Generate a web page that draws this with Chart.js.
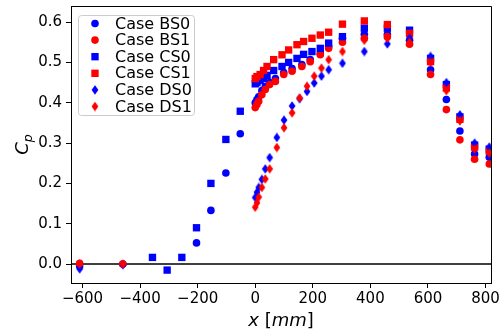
<!DOCTYPE html>
<html><head><meta charset="utf-8">
<script src="https://cdn.jsdelivr.net/npm/chart.js@4/dist/chart.umd.min.js"></script>
<style>html,body{margin:0;padding:0;background:#fff;overflow:hidden}#wrap{width:500px;height:333px}</style>
</head><body><div id="wrap"><canvas id="c" width="500" height="333"></canvas></div>
<script>
// ---- data ----
const xTicks = [-600, -400, -200, 0, 200, 400, 600, 800];
const yTicks = [0.0, 0.1, 0.2, 0.3, 0.4, 0.5, 0.6];
const seriesNames = ['Case BS0', 'Case BS1', 'Case CS0', 'Case CS1', 'Case DS0', 'Case DS1'];

const xBS0 = [-610,-460,-204,-154,-102,-52,0,6,12,23,35,50,70,99,128,162,191,226,255,303,379,459,536,609,664,711,762,813];
const yBS0 = [-0.005,0.0,0.0525,0.133,0.226,0.323,0.40,0.408,0.415,0.43,0.44,0.45,0.46,0.475,0.485,0.495,0.507,0.522,0.54,0.56,0.57,0.57,0.555,0.482,0.408,0.33,0.273,0.265];
const xBS1 = [-610,-460,0,6,12,23,35,50,70,99,128,162,191,226,255,303,379,459,536,609,664,711,762,813];
const yBS1 = [0.002,0.0,0.388,0.396,0.404,0.42,0.433,0.445,0.453,0.47,0.478,0.49,0.502,0.519,0.535,0.55,0.56,0.564,0.545,0.47,0.383,0.308,0.26,0.248];
const xCS0 = [-357,-306,-255,-204,-154,-102,-52,0,6,17,29,41,64,93,116,145,168,197,226,255,303,379,459,536,609,664,711,762,813];
const yCS0 = [0.0165,-0.015,0.0165,0.09,0.2,0.309,0.379,0.447,0.45,0.455,0.46,0.468,0.48,0.49,0.5,0.51,0.52,0.527,0.535,0.548,0.564,0.585,0.585,0.58,0.51,0.445,0.365,0.295,0.285];
const xCS1 = [0,6,17,29,41,64,93,116,145,168,197,226,255,303,379,459,536,609,664,711,762,813];
const yCS1 = [0.46,0.465,0.47,0.48,0.49,0.507,0.519,0.531,0.544,0.552,0.56,0.568,0.575,0.595,0.603,0.594,0.572,0.502,0.437,0.359,0.29,0.28];
const xDS0 = [-610,-460,0,6,12,23,35,50,75,100,128,154,180,205,230,255,303,379,459,536,609,664,711,762,813];
const yDS0 = [-0.012,-0.002,0.165,0.178,0.19,0.21,0.236,0.264,0.314,0.357,0.392,0.41,0.428,0.449,0.466,0.482,0.498,0.527,0.546,0.56,0.515,0.45,0.37,0.30,0.29];
const xDS1 = [-610,-460,0,6,12,23,35,50,75,100,128,154,180,205,230,255,303,379,459,536,609,664,711,762,813];
const yDS1 = [0.0,0.0,0.141,0.152,0.166,0.19,0.211,0.236,0.289,0.338,0.375,0.412,0.441,0.466,0.486,0.507,0.527,0.555,0.56,0.55,0.50,0.43,0.355,0.285,0.275];

// ---- styling ----
const BLUE = '#0000ff', RED = '#ff0000';
function diamond(color) {
  const c = document.createElement('canvas');
  c.width = 8; c.height = 10;
  const g = c.getContext('2d');
  g.fillStyle = color;
  g.beginPath();
  g.moveTo(4, 0.3); g.lineTo(7.4, 5); g.lineTo(4, 9.7); g.lineTo(0.6, 5);
  g.closePath(); g.fill();
  return c;
}
const styles = [
  {color: BLUE, ps: 'circle', r: 3.8},
  {color: RED, ps: 'circle', r: 3.8},
  {color: BLUE, ps: 'rect', r: 5.2},
  {color: RED, ps: 'rect', r: 5.2},
  {color: BLUE, ps: diamond(BLUE), r: 4},
  {color: RED, ps: diamond(RED), r: 4}
];
const xs = [xBS0, xBS1, xCS0, xCS1, xDS0, xDS1];
const ys = [yBS0, yBS1, yCS0, yCS1, yDS0, yDS1];

const datasets = seriesNames.map((name, i) => ({
  label: name,
  data: xs[i].map((x, k) => ({x: x, y: ys[i][k]})),
  pointStyle: styles[i].ps,
  pointRadius: styles[i].r,
  pointHoverRadius: styles[i].r,
  backgroundColor: styles[i].color,
  borderColor: styles[i].color,
  pointBorderWidth: 0,
  showLine: false,
  order: 5 - i,
  clip: 0
}));

const FONT = "'DejaVu Sans', sans-serif";

const decor = {
  id: 'decor',
  beforeDatasetsDraw(chart) {
    const {ctx, chartArea: a, scales} = chart;
    ctx.save();
    const y0 = scales.y.getPixelForValue(0);
    ctx.strokeStyle = '#000'; ctx.lineWidth = 1.6;
    ctx.beginPath(); ctx.moveTo(a.left, y0); ctx.lineTo(a.right, y0); ctx.stroke();
    ctx.restore();
  },
  afterDraw(chart) {
    const {ctx, chartArea: a} = chart;
    ctx.save();
    // spines top/right
    ctx.strokeStyle = '#000'; ctx.lineWidth = 1;
    ctx.beginPath();
    ctx.moveTo(a.left, a.top + 0.5); ctx.lineTo(a.right + 0.5, a.top + 0.5); ctx.lineTo(a.right + 0.5, a.bottom);
    ctx.stroke();

    // legend
    const lx = 78.5, ly = 15.5, lw = 116, lh = 100, rr = 3;
    ctx.beginPath();
    ctx.moveTo(lx + rr, ly); ctx.lineTo(lx + lw - rr, ly); ctx.arcTo(lx + lw, ly, lx + lw, ly + rr, rr);
    ctx.lineTo(lx + lw, ly + lh - rr); ctx.arcTo(lx + lw, ly + lh, lx + lw - rr, ly + lh, rr);
    ctx.lineTo(lx + rr, ly + lh); ctx.arcTo(lx, ly + lh, lx, ly + lh - rr, rr);
    ctx.lineTo(lx, ly + rr); ctx.arcTo(lx, ly, lx + rr, ly, rr); ctx.closePath();
    ctx.fillStyle = 'rgba(255,255,255,0.8)'; ctx.fill();
    ctx.strokeStyle = '#cccccc'; ctx.lineWidth = 1; ctx.stroke();
    ctx.font = '16px ' + FONT; ctx.textBaseline = 'middle'; ctx.textAlign = 'left';
    seriesNames.forEach((name, i) => {
      const cy = 23.5 + i * 16.6;
      const st = styles[i];
      ctx.fillStyle = st.color; ctx.strokeStyle = st.color;
      Chart.helpers.drawPoint(ctx, {pointStyle: st.ps, radius: st.r, borderWidth: 0, rotation: 0}, 95, cy);
      ctx.fillStyle = '#000';
      ctx.fillText(name, 115, cy + 1);
    });

    // x axis title: $x$ [$mm$]
    ctx.fillStyle = '#000'; ctx.textBaseline = 'alphabetic';
    const parts = [['x', 'italic'], [' [', 'normal'], ['mm', 'italic'], [']', 'normal']];
    let tw = 0;
    parts.forEach(p => { ctx.font = p[1] + ' 18px ' + FONT; tw += ctx.measureText(p[0]).width; });
    let px = (a.left + a.right) / 2 - tw / 2;
    parts.forEach(p => { ctx.font = p[1] + ' 18px ' + FONT; ctx.fillText(p[0], px, 326); px += ctx.measureText(p[0]).width; });

    // y axis title: $C_p$
    ctx.translate(28, (a.top + a.bottom) / 2);
    ctx.rotate(-Math.PI / 2);
    ctx.font = 'italic 18px ' + FONT;
    const wC = ctx.measureText('C').width;
    ctx.font = 'italic 12.6px ' + FONT;
    const wp = ctx.measureText('p').width;
    const sx = -(wC + wp) / 2;
    ctx.font = 'italic 18px ' + FONT; ctx.fillText('C', sx, 0);
    ctx.font = 'italic 12.6px ' + FONT; ctx.fillText('p', sx + wC, 3.5);
    ctx.restore();
  }
};

new Chart(document.getElementById('c'), {
  type: 'scatter',
  data: {datasets},
  options: {
    responsive: false, animation: false, devicePixelRatio: 1,
    layout: {padding: {top: 6, right: 9, left: 0, bottom: 0}},
    plugins: {legend: {display: false}, tooltip: {enabled: false}},
    scales: {
      x: {
        type: 'linear', min: -640, max: 819,
        afterBuildTicks: s => { s.ticks = xTicks.map(v => ({value: v})); },
        afterFit: s => { s.height = 50; s.paddingLeft = 0; s.paddingRight = 0; },
        ticks: {callback: v => (v < 0 ? '\u2212' + Math.abs(v) : String(v)), font: {family: FONT, size: 15}, color: '#000', padding: 2, maxRotation: 0, autoSkip: false},
        grid: {display: true, drawOnChartArea: false, drawTicks: true, tickLength: 5, tickColor: '#000', tickWidth: 1},
        border: {display: true, color: '#000', width: 1}
      },
      y: {
        type: 'linear', min: -0.047, max: 0.640,
        afterBuildTicks: s => { s.ticks = yTicks.map(v => ({value: v})); },
        afterFit: s => { s.width = 71; s.paddingTop = 0; s.paddingBottom = 0; },
        ticks: {callback: v => v.toFixed(1), font: {family: FONT, size: 15}, color: '#000', padding: 4, autoSkip: false},
        grid: {display: true, drawOnChartArea: false, drawTicks: true, tickLength: 5, tickColor: '#000', tickWidth: 1},
        border: {display: true, color: '#000', width: 1}
      }
    }
  },
  plugins: [decor]
});
</script></body></html>
